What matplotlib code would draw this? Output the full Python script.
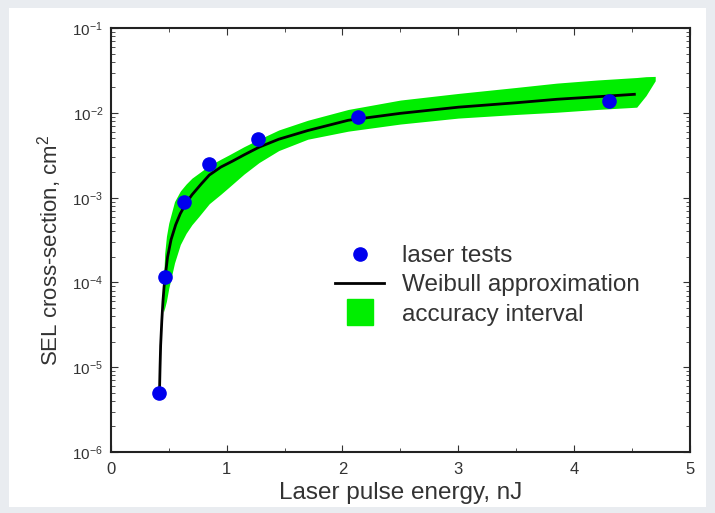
import matplotlib
matplotlib.use('Agg')
import matplotlib.pyplot as plt
from matplotlib.patches import Rectangle
from matplotlib.lines import Line2D
from matplotlib.ticker import LogLocator, MultipleLocator, NullFormatter

plt.rcParams['font.family'] = ['Liberation Sans', 'DejaVu Sans']
plt.rcParams['mathtext.fontset'] = 'custom'
plt.rcParams['mathtext.rm'] = 'Liberation Sans'
plt.rcParams['mathtext.it'] = 'Liberation Sans:italic'
plt.rcParams['mathtext.default'] = 'regular'

# laser test points
test_energy = [0.42, 0.47, 0.63, 0.85, 1.27, 2.13, 4.30]
test_sigma = [5.0e-6, 1.15e-4, 9.0e-4, 2.5e-3, 4.9e-3, 8.9e-3, 1.4e-2]

# Weibull approximation
fit_energy = [0.42, 0.425, 0.43, 0.44, 0.45, 0.46, 0.47, 0.49, 0.52, 0.56, 0.60, 0.65,
              0.70, 0.78, 0.85, 0.95, 1.05, 1.15, 1.28, 1.45, 1.7, 2.05, 2.5, 3.0,
              3.5, 3.85, 4.25, 4.52]
fit_sigma = [5e-6, 1e-5, 1.8e-5, 3.5e-5, 6e-5, 9e-5, 1.2e-4, 2e-4, 3.2e-4, 4.8e-4, 6.5e-4, 8.6e-4,
             1.08e-3, 1.45e-3, 1.85e-3, 2.3e-3, 2.7e-3, 3.2e-3, 3.95e-3, 4.9e-3, 6.2e-3, 8.2e-3,
             9.9e-3, 1.17e-2, 1.32e-2, 1.45e-2, 1.57e-2, 1.66e-2]

# accuracy interval edges
band_energy = [0.455, 0.465, 0.48, 0.50, 0.55, 0.60, 0.65, 0.70, 0.76, 0.85, 0.95, 1.02,
               1.15, 1.28, 1.45, 1.7, 2.05, 2.5, 3.0, 3.5, 3.85, 4.2, 4.54, 4.62, 4.70]
band_hi = [1e-4, 2.2e-4, 3.5e-4, 5e-4, 9e-4, 1.2e-3, 1.45e-3, 1.7e-3, 1.95e-3, 2.4e-3, 2.85e-3,
           3.2e-3, 4e-3, 4.9e-3, 6.3e-3, 8.2e-3, 1.1e-2, 1.42e-2, 1.7e-2, 2e-2, 2.25e-2,
           2.45e-2, 2.62e-2, 2.68e-2, 2.7e-2]
band_lo = [4.5e-5, 5e-5, 6e-5, 8.5e-5, 1.7e-4, 2.8e-4, 3.8e-4, 4.8e-4, 6e-4, 8.5e-4, 1.1e-3,
           1.33e-3, 1.9e-3, 2.6e-3, 3.6e-3, 4.9e-3, 6.1e-3, 7.4e-3, 8.7e-3, 9.6e-3, 1.02e-2,
           1.1e-2, 1.17e-2, 1.6e-2, 2.4e-2]

fig = plt.figure(figsize=(7.15, 5.13), dpi=100)
fig.patch.set_facecolor('#e9ecf0')
fig.patches.append(Rectangle((0.012, 0.012), 0.975, 0.973, transform=fig.transFigure,
                             facecolor='white', edgecolor='none', zorder=-10))

ax = fig.add_axes([0.155, 0.119, 0.81, 0.826])
ax.set_zorder(5)
ax.fill_between(band_energy, band_lo, band_hi, color='#00ee00', linewidth=0, zorder=1)
ax.plot(fit_energy, fit_sigma, color='black', linewidth=2, zorder=2)
ax.plot(test_energy, test_sigma, 'o', color='#0000ee', markersize=9.5, zorder=3)

ax.set_yscale('log')
ax.set_xlim(0, 5)
ax.set_ylim(1e-6, 1e-1)
ax.xaxis.set_major_locator(MultipleLocator(1))
ax.xaxis.set_minor_locator(MultipleLocator(0.5))
ax.yaxis.set_major_locator(LogLocator(base=10, numticks=10))
ax.yaxis.set_minor_locator(LogLocator(base=10, subs=range(2, 10), numticks=20))
ax.yaxis.set_minor_formatter(NullFormatter())
ax.tick_params(which='both', direction='in', top=True, right=True, colors='#333333')
ax.tick_params(which='major', length=5)
ax.tick_params(which='minor', length=3)
ax.tick_params(axis='x', labelsize=12, pad=7)
ax.tick_params(axis='y', labelsize=11, pad=5.5)
for s in ax.spines.values():
    s.set_linewidth(1.5)
    s.set_color('#222222')

ax.set_xlabel('Laser pulse energy, nJ', fontsize=17.5, color='#333333', labelpad=4)
ax.set_ylabel('SEL cross-section, cm$^2$', fontsize=16, color='#333333')
ax.yaxis.set_label_coords(-0.081, 0.476)

handles = [Line2D([], [], marker='o', linestyle='none', color='#0000ee', markersize=9.5),
           Line2D([], [], color='black', linewidth=2),
           Line2D([], [], marker='s', linestyle='none', color='#00ee00', markersize=19)]
ax.legend(handles, ['laser tests', 'Weibull approximation', 'accuracy interval'],
          loc='upper left', bbox_to_anchor=(0.350, 0.540), frameon=False, fontsize=17.5,
          handlelength=2.0, labelspacing=0.3, handletextpad=0.75,
          labelcolor='#333333')

fig.savefig('out.png', dpi=100, facecolor=fig.get_facecolor())
